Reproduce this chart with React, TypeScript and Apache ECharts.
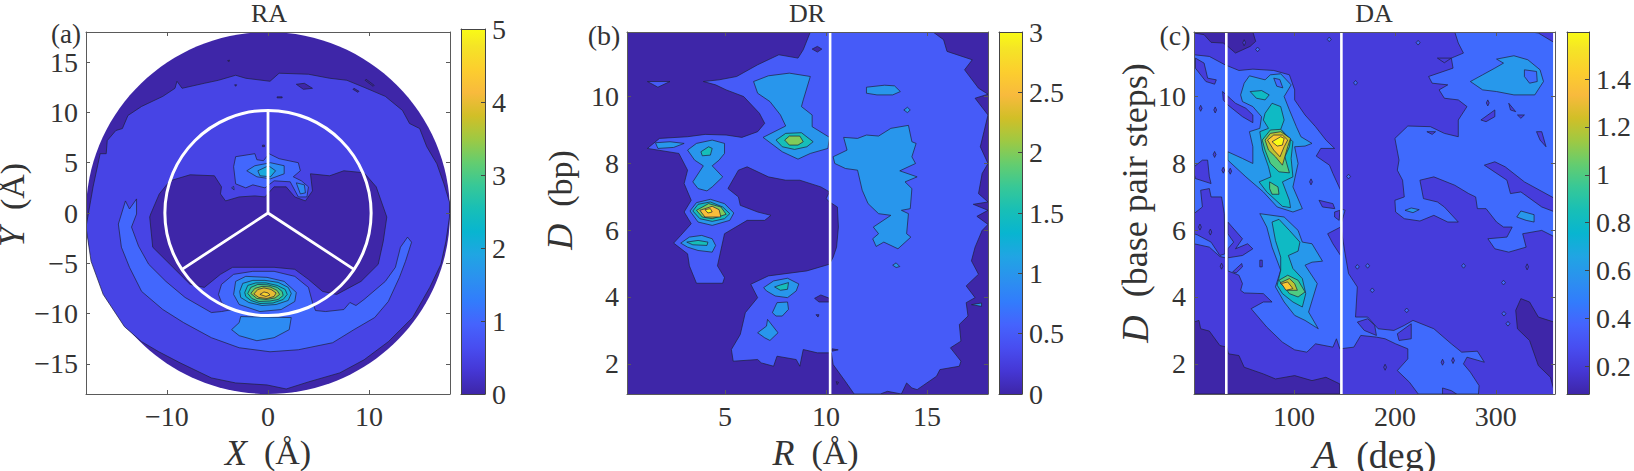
import React, { useEffect, useRef } from "react";
import * as echarts from "echarts";

type Pt = number[];
type Patch = { level: number; pts: Pt[]; edge?: boolean };

const PARULA = ["#3E26A8","#4537D5","#484DF0","#4563FD","#327CFC","#2B91EF","#20A5E3","#08B5D0","#18BFB6","#37C897","#64CD6F","#9EC943","#D1BF27","#F8BA3D","#FCCE2E","#F5E426","#F9FB15"];
const PARULA_POS = [0,4,8,12,16,20,24,28,32,36,40,44,48,52,56,60,63].map((i) => i / 63);

/* ---------- tick labels ---------- */
const raTicksX = [-10, 0, 10];
const raTicksY = [-15, -10, -5, 0, 5, 10, 15];
const raBarTicks = [0, 1, 2, 3, 4, 5];
const drTicksX = [5, 10, 15];
const dTicksY = [2, 4, 6, 8, 10];
const drBarTicks = [0, 0.5, 1, 1.5, 2, 2.5, 3];
const daTicksX = [100, 200, 300];
const daBarTicks = [0.2, 0.4, 0.6, 0.8, 1, 1.2, 1.4];

/* ---------- RA contours (X, Y in angstrom) ---------- */
const raLevel05: Pt[] = [[-18,-1.4],[-17.3,2.6],[-16.6,5.9],[-16,5.9],[-15.9,7.2],[-15.05,8.2],[-14.4,8.4],[-13.85,9.7],[-12.5,10.6],[-10.4,11.6],[-9.2,12.4],[-9,13.1],[-8.5,12.4],[-6.3,12.9],[-4.9,13.2],[-3.2,13.7],[-2.2,13.4],[0.2,13.1],[1.1,13.9],[4,13.8],[6.1,13.4],[7.8,13.2],[9.5,12.5],[11.6,11.6],[13.3,10.2],[14,8.9],[15,8.4],[15.7,6.6],[16.7,4.9],[17.4,2.9],[17.95,1.1],[17.95,-0.4],[17.6,-2.8],[17.1,-5.1],[16,-7.4],[14.3,-10.4],[11.9,-12.8],[9.5,-14.6],[7.1,-15.9],[4,-16.8],[1.8,-17.5],[-0.1,-17.1],[-3.2,-16.9],[-5.6,-16.4],[-8.7,-14.9],[-10.8,-13.8],[-12.5,-12.8],[-14.2,-11.3],[-16.3,-8.1],[-17.5,-4.8]];
const raHole: Pt[] = [[-11.6,-0.1],[-10.75,1.9],[-9.7,3.2],[-7.7,3.8],[-5.3,3.7],[-4.6,2.6],[-4.7,1.9],[-4.2,1.2],[-2.85,1.6],[-1.3,1.7],[-0.3,1.6],[0.6,2.6],[1.8,2.6],[2.65,1.6],[3.7,1.2],[4.4,2.2],[4.2,3.9],[6.1,3.7],[7.5,4.2],[9.5,4],[10.7,2.6],[11.75,-0.4],[11.4,-2.8],[10.9,-5.1],[9.2,-6.8],[6.8,-8.1],[5.4,-7.8],[4,-6.6],[2.65,-5.6],[0.6,-5.4],[-1.5,-5.4],[-3.5,-5.4],[-4.7,-6.1],[-6.3,-7.4],[-7.7,-7.1],[-9.7,-5.1],[-11.4,-3.4],[-11.7,-0.4]];
const raIslets: Pt[][] = [[[2.8,12.8],[3.6,12.9],[4.4,12.4],[3.5,12.3]],[[9.7,13.3],[10.5,12.7],[10.4,12.6],[9.6,13.2]],[[8.5,12.4],[9,12.1],[8.9,12],[8.4,12.3]],[[0.9,11.55],[1.4,11.55],[1.4,11.45],[0.9,11.45]],[[-0.55,6.75],[-0.35,6.75],[-0.35,6.6],[-0.55,6.6]],[[-4,15.15],[-3.8,15.2],[-3.85,15.05]],[[-3.3,12.75],[-3.1,12.75],[-3.2,12.6]]];
const raCrescent: Pt[] = [[-14.1,1.2],[-13.7,0.4],[-13,1.4],[-13,-0.1],[-13.5,-1.4],[-12.8,-3.3],[-11.8,-5.1],[-10.1,-6.8],[-8.2,-8.4],[-5.6,-9.9],[-4.6,-9.8],[-3.5,-9.6],[-4.6,-8.9],[-4.9,-8.1],[-4.6,-7.1],[-3.4,-6.1],[-1.5,-5.8],[0.6,-5.8],[2.65,-6.3],[4,-7.4],[4.4,-8.9],[4.7,-9.7],[5.7,-9.8],[7.5,-9.6],[8.1,-8.9],[8.7,-9.2],[9.5,-8.6],[11.6,-6.8],[12.6,-5.4],[13.1,-3.4],[13.8,-2.4],[14.2,-2.9],[13.6,-4.8],[13,-6.4],[11.9,-8.8],[10.55,-10.4],[8.5,-11.6],[6.4,-12.9],[3,-13.6],[0.2,-13.8],[-2.85,-13.4],[-5.6,-12.4],[-8.35,-10.9],[-10.4,-9.6],[-12.5,-7.8],[-13.7,-5.4],[-14.5,-3.4],[-14.8,-1.1]];
const raTop10: Pt[] = [[-3.4,4.6],[-3.2,5.6],[-1.3,5.9],[-1.1,5.3],[-0.45,5.2],[0.1,5.9],[1.1,5.4],[3,5],[3.2,4.2],[2.5,3.6],[3.3,3.2],[4,2.6],[3.85,1.6],[3,1.6],[2.2,3.1],[0.6,3.2],[-0.3,2.5],[-1.5,2.8],[-2.2,2.5],[-3.2,2.9]];
const raTopDot: Pt[] = [[-3.6,2.5],[-3.4,2.65],[-3.35,2.3]];
const raTop15: Pt[] = [[-2.1,4.2],[-1.3,4.7],[0.25,5],[1.6,4.7],[1.6,3.9],[0.25,3.4],[-1.1,3.6]];
const raTopSide15: Pt[] = [[2.8,3],[3.6,2.8],[3.7,2],[3.2,1.9]];
const raTop20: Pt[] = [[-1,4.2],[0.05,4.7],[0.75,4.2],[0.25,3.6],[-0.8,3.7]];
const raBlob15: Pt[] = [[-2.7,-10.3],[2.3,-10.4],[2.1,-11.6],[0.6,-12.4],[-1.1,-12.7],[-2.85,-12.2],[-3.6,-11.6],[-2.85,-10.9]];
const raPeak15: Pt[] = [[-3.4,-8.1],[-3.2,-6.8],[-2.2,-6.3],[-0.1,-6.4],[1.6,-6.8],[2.8,-7.9],[2.65,-8.8],[1.3,-9.6],[-0.8,-9.8],[-2.85,-9.1]];
const raPeak20: Pt[] = [[-2.8,-7.8],[-2.5,-7],[-1.5,-6.7],[-0.3,-6.7],[1,-6.9],[2,-7.4],[2.3,-8],[2,-8.7],[0.8,-9.1],[-0.6,-9.2],[-1.9,-8.9],[-2.7,-8.4]];
const raPeak25: Pt[] = [[-2.3,-7.9],[-2,-7.2],[-1.2,-6.95],[-0.2,-6.95],[0.9,-7.2],[1.7,-7.6],[1.9,-8.1],[1.5,-8.6],[0.5,-8.95],[-0.8,-9],[-1.7,-8.7],[-2.2,-8.3]];
const raPeak30: Pt[] = [[-2,-8],[-1.7,-7.4],[-1,-7.1],[0,-7.15],[0.9,-7.4],[1.4,-7.8],[1.5,-8.2],[1,-8.6],[0.2,-8.75],[-0.9,-8.8],[-1.6,-8.5]];
const raPeak35: Pt[] = [[-1.7,-8],[-1.3,-7.5],[-0.6,-7.3],[0.2,-7.35],[0.9,-7.7],[1.15,-8.1],[0.7,-8.45],[-0.2,-8.6],[-1.1,-8.5]];
const raPeak40: Pt[] = [[-1.4,-8.05],[-1,-7.6],[-0.4,-7.45],[0.3,-7.6],[0.8,-7.95],[0.6,-8.3],[-0.1,-8.5],[-0.9,-8.4]];
const raPeak45: Pt[] = [[-0.8,-8.1],[-0.4,-7.85],[0,-7.95],[0.2,-8.15],[-0.2,-8.3]];
const raSpokes: Pt[] = [[0,10.2],[0,0],[-8.5,-5.6],[0,0],[8.5,-5.6]];

const raPatches: Patch[] = [
  { level: 0.5, pts: raLevel05 },
  ...raIslets.map((pts) => ({ level: 0, pts })),
  { level: 0, pts: raHole },
  { level: 1, pts: raCrescent },
  { level: 1, pts: raTop10 }, { level: 1, pts: raTopDot },
  { level: 1.5, pts: raTop15 }, { level: 1.5, pts: raTopSide15 }, { level: 2, pts: raTop20 },
  { level: 1.5, pts: raBlob15 }, { level: 1.5, pts: raPeak15 }, { level: 2, pts: raPeak20 },
  { level: 2.5, pts: raPeak25 }, { level: 3, pts: raPeak30 }, { level: 3.5, pts: raPeak35 },
  { level: 4, pts: raPeak40 }, { level: 4.5, pts: raPeak45 },
];

/* ---------- DR contours (R in angstrom, D in bp) ---------- */
const drBase: Pt[] = [[0.14,1.1],[18.02,1.1],[18.02,11.92],[0.14,11.92]];
const drMain05: Pt[] = [[9.22,11.92],[8.87,11.39],[8.61,11.14],[7.66,11.24],[6.61,10.94],[5.57,10.59],[4.7,10.49],[3.92,10.44],[4.53,10.34],[5.05,10.19],[5.92,9.99],[6.7,9.49],[6.96,9.19],[6.61,8.94],[5.83,8.77],[5.05,8.84],[4.01,8.86],[3.14,8.79],[1.75,8.74],[1.15,8.44],[2.71,8.29],[3.14,7.79],[2.97,7.39],[3.32,6.89],[2.97,6.54],[3.32,6.19],[2.8,5.84],[2.45,5.61],[3.14,5.29],[3.23,4.93],[3.58,4.41],[4.88,4.41],[4.97,4.58],[4.62,4.93],[4.97,5.89],[6.09,6.29],[6.96,6.29],[7.27,6.44],[6.61,6.54],[5.75,6.74],[5.66,6.99],[5.14,7.24],[5.66,7.79],[6.09,7.89],[7.14,7.59],[8,7.49],[8.7,7.49],[9.74,7.29],[10.17,7.14],[10,6.94],[10.17,6.84],[10.56,6.69],[10.61,6.09],[10.52,5.49],[10.35,5.19],[10.17,4.98],[9.05,4.78],[7.14,4.63],[6.27,4.38],[6.61,3.98],[6,3.53],[5.75,2.88],[5.31,2.43],[5.4,2.08],[6.61,2.13],[6.79,2.03],[7.4,1.93],[7.57,2.23],[8.52,2.13],[8.7,1.93],[8.87,2.43],[9.57,2.33],[10.26,2.33],[10.35,1.98],[10.95,1.48],[11.39,1.1],[12.69,1.1],[13.04,1.18],[13.73,1.1],[13.99,1.43],[14.25,1.28],[14.51,1.23],[15.47,1.63],[15.64,1.83],[16.6,1.93],[16.68,2.08],[16.16,2.48],[16.68,2.68],[16.6,3.18],[17.03,3.43],[16.94,3.83],[17.38,3.98],[16.94,4.33],[17.55,4.68],[17.2,5.08],[17.38,5.49],[17.73,5.99],[18.02,6.17],[17.47,6.41],[18.02,6.59],[17.29,6.77],[18.02,6.84],[17.55,7.09],[17.73,7.69],[18.02,7.99],[17.64,8.49],[18.02,9.44],[17.38,9.94],[18.02,10.06],[17.55,10.24],[16.86,10.79],[17.24,11.09],[15.99,11.34],[15.82,11.69],[15.3,11.92]];
const drHoles: Pt[][] = [[[9.31,11.41],[9.57,11.49],[9.79,11.41],[9.57,11.32]],[[9.43,3.96],[9.74,4.06],[10.17,3.96],[10.17,3.85],[9.65,3.85]],[[10.3,2.45],[10.6,2.42],[10.3,2.38]],[[9.5,3.47],[9.65,3.47],[9.6,3.4]],[[10.5,1.47],[10.62,1.45],[10.55,1.38]],[[13.53,7.68],[13.6,7.55],[13.5,7.55]]];
const drIslet05: Pt[] = [[1.15,10.44],[2.27,10.44],[1.67,10.27]];
const drSpike10: Pt[] = [[17.2,3.77],[17.7,3.82],[17.7,3.72]];
const drUpper10: Pt[] = [[6.41,10.44],[7.14,10.61],[8.18,10.69],[9.22,10.59],[8.87,9.89],[8.78,9.69],[9.31,9.44],[9.31,9.09],[10.17,8.77],[10.09,8.44],[9.22,8.29],[8.61,8.12],[7.83,8.34],[6.88,8.77],[8,9.11],[7.74,9.44],[7.22,9.84],[6.61,10.09]];
const drUpper15: Pt[] = [[7.52,8.69],[8,8.89],[8.78,8.91],[9.36,8.64],[9.05,8.49],[8.44,8.41],[7.83,8.49]];
const drUpper20: Pt[] = [[7.95,8.69],[8.18,8.81],[8.7,8.81],[8.87,8.64],[8.61,8.54],[8.18,8.54]];
const drTail10: Pt[] = [[1.55,8.61],[2.27,8.64],[2.97,8.59],[2.45,8.47],[1.67,8.44]];
const drLobe10: Pt[] = [[3.14,8.39],[3.58,8.59],[4.36,8.69],[4.97,8.59],[4.97,8.29],[4.7,8.09],[4.36,7.92],[4.88,7.59],[4.36,7.29],[4.1,7.17],[3.66,7.24],[3.4,7.44],[3.92,7.92],[3.49,8.09]];
const drLobe15: Pt[] = [[3.8,8.34],[4.18,8.49],[4.36,8.44],[4.27,8.24],[3.87,8.22]];
const drPeak10: Pt[] = [[3.26,6.57],[3.58,6.82],[4.27,6.92],[4.97,6.79],[5.43,6.51],[5.23,6.29],[4.36,6.14],[3.66,6.24]];
const drPeak15: Pt[] = [[3.4,6.57],[3.66,6.77],[4.27,6.84],[4.88,6.69],[5.23,6.49],[4.97,6.34],[4.36,6.26],[3.75,6.34]];
const drPeak20: Pt[] = [[3.58,6.59],[4.18,6.79],[4.79,6.69],[5.05,6.47],[4.36,6.34],[3.87,6.39]];
const drPeak25: Pt[] = [[3.75,6.59],[4.36,6.71],[4.7,6.61],[4.79,6.39],[4,6.39]];
const drPeak30: Pt[] = [[4,6.61],[4.27,6.64],[4.36,6.54],[4.15,6.51]];
const drLow10: Pt[] = [[2.8,5.61],[3.23,5.79],[3.84,5.84],[4.36,5.74],[4.53,5.54],[4.36,5.34],[3.66,5.39],[3.14,5.49]];
const drLow15: Pt[] = [[3.1,5.64],[3.66,5.69],[4.15,5.64],[4.1,5.54],[3.4,5.56]];
const drFour10: Pt[] = [[6.91,4.28],[7.4,4.48],[8.09,4.56],[8.65,4.39],[8.52,4.18],[8.09,3.98],[7.48,4.03],[7.05,4.18]];
const drFour15: Pt[] = [[7.45,4.3],[7.74,4.36],[8.14,4.43],[8.09,4.23],[7.74,4.2]];
const drBlobA: Pt[] = [[7.57,3.83],[8.09,3.85],[8.14,3.63],[7.83,3.43],[7.52,3.43],[7.34,3.53]];
const drBlobB: Pt[] = [[7.1,3.33],[7.62,2.93],[7.22,2.7],[6.96,2.78],[6.61,2.93],[7.05,3.13]];
const drRightIslet: Pt[] = [[12,10.27],[12.9,10.33],[13.39,10.31],[13.68,10.14],[13.3,10.04],[12.52,10.04],[12,10.09]];
const drDotA: Pt[] = [[13.85,9.59],[14.03,9.67],[14.17,9.59],[14.03,9.51]];
const drDotB: Pt[] = [[13.3,4.95],[13.47,5.02],[13.65,4.91],[13.47,4.88]];
const drRightBig: Pt[] = [[10.87,8.77],[11.56,8.74],[12,8.84],[12.6,8.81],[13.21,9.04],[14.08,9.13],[14.25,8.64],[14.46,8.59],[14.25,8.19],[14.43,7.99],[13.65,7.77],[14.51,7.59],[13.91,7.44],[14.25,7.24],[14.17,6.64],[13.73,6.59],[14.08,6.49],[13.99,5.89],[14.2,5.79],[13.56,5.44],[12.86,5.64],[12.48,5.51],[12.31,5.74],[12.6,5.89],[12.34,6.09],[13.21,6.44],[12.6,6.49],[12.08,6.79],[11.79,7.19],[11.56,7.79],[10.96,7.84],[10.43,7.99],[10.35,8.19],[11.04,8.39]];
const drWhite: Pt[] = [[10.2,1.1],[10.2,11.92]];

const drPatches: Patch[] = [
  { level: 0, pts: drBase, edge: false },
  { level: 0.5, pts: drMain05 }, { level: 0.5, pts: drIslet05 },
  ...drHoles.map((pts) => ({ level: 0, pts })),
  ...[drSpike10, drUpper10, drTail10, drLobe10, drPeak10, drLow10, drFour10, drBlobA, drBlobB, drRightIslet, drDotA, drDotB, drRightBig].map((pts) => ({ level: 1, pts })),
  ...[drUpper15, drLobe15, drPeak15, drLow15, drFour15].map((pts) => ({ level: 1.5, pts })),
  { level: 2, pts: drUpper20 }, { level: 2, pts: drPeak20 },
  { level: 2.5, pts: drPeak25 }, { level: 3, pts: drPeak30 },
];

/* ---------- DA contours (A in deg, D in base pair steps) ---------- */
const daBase: Pt[] = [[1,1.1],[358.6,1.1],[358.6,11.92],[1,11.92]];
const daDarkTop: Pt[] = [[1,11.92],[59.3,11.92],[62.1,11.64],[56.6,11.49],[42.1,11.29],[34.5,11.49],[30,11.59],[17.9,11.61],[11,11.84],[1,11.89]];
const daDarkLeft: Pt[] = [[1,3.25],[5.9,3.3],[7.6,3.05],[16.2,2.98],[26.6,2.55],[33.4,2.5],[35.2,2.3],[45.5,2.25],[50.7,1.9],[69.7,1.7],[81.7,1.55],[100.7,1.65],[117.9,1.5],[131.7,1.6],[145.5,1.4],[145.5,1.1],[1,1.1]];
const daDarkRight: Pt[] = [[319.7,3.6],[324.8,3.95],[333.4,3.85],[342.1,3.4],[357.6,3.25],[358.6,1.1],[354.1,1.6],[342.1,1.95],[333.4,2.7],[321.4,3.05]];
const daRidge04: Pt[] = [[1,11.24],[16.2,11.19],[31.7,10.94],[45.5,10.77],[59.3,10.81],[80,10.77],[95.5,10.64],[100.7,10.19],[100.7,9.89],[111,9.44],[121.4,9.09],[131.7,8.69],[140.3,8.44],[126.6,8.44],[122.1,8.21],[135.2,7.94],[138.6,7.69],[146.2,7.19],[146.2,6.64],[150.7,6.59],[146.2,6.14],[150.7,5.29],[154.1,4.7],[162.8,4.3],[161,3.4],[173.1,3.4],[183.4,3.05],[199,3],[209.3,3.15],[217.9,3.3],[238.6,3.05],[255.9,2.6],[266.2,2.35],[281.7,2.38],[288.6,2.05],[271.4,2.2],[267.9,2],[274.8,1.75],[283.4,1.35],[282.8,1.1],[223.1,1.1],[214.5,1.45],[202.4,1.8],[212.8,2.15],[212.8,2.45],[200.7,2.6],[190.3,2.75],[181.7,2.8],[166.2,2.85],[159.3,2.5],[145.5,2.45],[142.1,2.75],[138.6,2.5],[121.4,2.6],[112.8,2.35],[100.7,2.42],[88.6,2.65],[73.1,3.1],[57.6,3.65],[69.7,3.85],[78.3,3.85],[69.7,4.1],[50.7,4.12],[47.2,4.2],[49,4.4],[45.5,4.65],[34.5,4.78],[34.5,5.15],[26.6,5.21],[16.2,5.49],[1,5.59]];
const daRight04: Pt[] = [[259.3,11.92],[262.8,11.59],[267.9,11.29],[255.9,11.14],[257.6,10.84],[233.4,10.59],[236.9,10.39],[252.4,10.34],[243.8,10.19],[249,9.94],[262.8,9.89],[271.4,9.69],[262.8,9.29],[262.8,8.79],[249,8.89],[235.2,9.09],[212.8,9.11],[200,8.74],[204.1,8.09],[202.4,7.79],[207.6,7.49],[209.3,6.99],[200,6.89],[200.7,6.54],[209.3,6.34],[224.8,6.27],[238.6,6.44],[252.4,6.24],[262.8,6.24],[249,6.69],[242.1,6.84],[228.3,6.94],[224.8,7.49],[238.6,7.59],[259.3,7.34],[273.1,7.09],[280,6.99],[281.7,6.64],[290.3,6.64],[300.7,6.24],[307.6,6.09],[316.2,6.09],[311,5.79],[292.1,5.74],[299,5.44],[312.8,5.34],[330,5.49],[326.6,5.89],[345.5,5.99],[358.6,5.79],[358.6,6.54],[345.5,6.69],[324.8,7.14],[314.5,7.09],[311,7.49],[288.6,7.94],[299,8.04],[309.3,7.89],[328.3,7.44],[358.6,6.94],[358.6,11.59],[342.1,11.89],[335.2,11.92]];
const daHoles02: Pt[][] = [
  [[2.4,11.14],[11,10.99],[14.5,10.54],[23.1,10.49],[21.4,10.36],[12.8,10.44],[2.4,10.84]],
  [[29.3,10.14],[42.1,9.79],[52.4,9.64],[59.3,9.44],[59.3,9.21],[49,9.39],[34.5,9.74],[30,9.89]],
  [[1,7.89],[9.3,8.09],[14.5,8.09],[16.2,7.59],[17.9,7.39],[2.4,7.54],[1,7.69]],
  [[1,6.49],[9.3,6.69],[7.6,7.19],[16.2,7.24],[17.9,6.99],[28.3,6.99],[31,6.49],[31.7,5.29],[26.6,5.24],[17.9,5.64],[4.1,5.86],[1,5.89]],
  [[34.5,6.24],[49,5.74],[42.1,5.44],[54.1,5.59],[59.3,5.44],[49,5.24],[34.5,5.17],[34.5,5.44],[40.3,5.64],[34.5,5.89]],
  [[39.3,4.75],[48.3,5],[49,4.9],[42.8,4.72]],
  [[66.2,5.1],[68.6,5.1],[68.6,4.9],[66.2,4.9]],
  [[124.8,6.89],[138.6,6.79],[140.5,6.64],[128.3,6.69]],
  [[140.3,6.54],[145.5,6.59],[144.8,6.29],[140.3,6.39]],
  [[133.4,5.89],[146.2,6.09],[146.2,5.24],[138.6,5.59]],
  [[285.2,9.29],[299,9.59],[299,9.39],[290.3,9.24]],
  [[340.3,8.94],[345.5,8.94],[349.7,8.49],[343.8,8.69]],
  [[242.1,11.14],[255.9,11.14],[249,11]],
  [[312.8,9.79],[319.7,9.54],[314.5,9.59]],
  [[321.4,9.44],[328.3,9.44],[324.8,9.34]],
  [[231.7,8.94],[240.3,8.94],[236.9,8.86]],
  [[202.4,2.9],[216.2,3.2],[216.2,2.75],[204.1,2.7]],
  [[162.8,3.25],[173.1,3.35],[180,3.15],[181.7,2.85],[169.7,3]],
  [[247.2,1.28],[255.9,1.2],[261,1.1],[247.2,1.1]],
];
const daSpecks02: Pt[] = [[7.6,9.64],[22,9.59],[21.4,8.26],[36.9,7.76],[30,7.79],[6.9,6.09],[17.2,5.94],[116.9,7.44],[28.3,4.92],[247.2,2.05],[257.6,2.1],[292,9.8],[50.7,11.6],[190.3,1.9],[331,4.9]];
const daSpecks04: Pt[] = [[154.1,7.6],[223,11.6],[268,4.93],[162.8,4.9],[177.6,4.2],[211.7,3.6],[307.6,4.43],[173,4.93],[64,11.4],[135,11.7],[161,10.4],[308,3.5],[312,3.2]];
const daUpper06: Pt[] = [[47.2,10.04],[50.7,10.39],[55.9,10.61],[71.4,10.49],[76.6,10.64],[86.9,10.67],[97.2,10.34],[90.3,9.99],[95.5,9.59],[102.4,9.09],[106.9,8.79],[117.9,8.59],[111,8.51],[100.7,8.49],[104.1,7.99],[99,7.29],[108.3,6.64],[99,6.54],[83.4,6.69],[69.7,7.14],[52.4,7.59],[34.5,8.09],[34.5,8.34],[49,8.14],[59.3,7.99],[59.3,8.49],[55.9,8.94],[66.2,9.04],[67.9,9.39],[59.3,9.69],[49,9.84]];
const daLower06: Pt[] = [[66.2,6.49],[90.3,6.39],[104.1,5.99],[108.3,5.64],[117.9,5.59],[128.3,5.07],[117.9,5.04],[111,4.95],[123.1,4.4],[114.5,3.55],[124.1,3.05],[111,3.3],[100.7,3.45],[90.3,3.85],[81.7,4.3],[86.9,4.8],[78.3,5.49],[73.1,6.09]];
const daFar06: Pt[] = [[274.8,10.44],[286.9,10.64],[299,10.84],[307.6,10.99],[300.7,11.11],[317.9,11.21],[331.7,11.09],[343.8,10.79],[347.2,10.44],[338.6,10.04],[317.9,10.04],[300.7,10.14],[286.9,10.19]];
const daFarHole04: Pt[] = [[328.3,10.79],[340.3,10.74],[341,10.44],[333.4,10.39],[328.3,10.59]];
const daRing04: Pt[] = [[80,10.54],[86,10.5],[89,10.25],[83,10.3]];
const daIsletA06: Pt[] = [[210,6.59],[216.2,6.66],[224.1,6.61],[217.9,6.52]];
const daIsletB06: Pt[] = [[320.7,6.39],[324.8,6.57],[337.9,6.46],[337.9,6.24],[330,6.29]];
const daUpper08: Pt[] = [[71.4,9.49],[78.3,9.79],[86.9,9.69],[90.3,9.29],[86.9,9.01],[99,8.64],[97.2,8.14],[99,7.59],[88.6,7.44],[95.5,6.89],[96.6,6.67],[88.6,6.71],[73.1,7.14],[65.5,7.44],[77.2,7.59],[74.8,7.89],[69,8.39],[66.2,8.94],[74.8,9.04],[69.7,9.29]];
const daTail08: Pt[] = [[56.6,10.14],[68,10.17],[75.5,10.04],[71.4,9.89],[62.8,9.94]];
const daLower08: Pt[] = [[78.3,6.24],[85.2,6.32],[95.5,5.99],[105.9,5.64],[104.1,5.37],[94.5,5.24],[99,4.85],[108.3,4.55],[111.7,4.1],[108.3,3.7],[99,3.85],[88.6,4.1],[83.4,4.35],[86.9,4.8],[86.9,5.19],[81.7,5.69]];
const daUpper10: Pt[] = [[68.6,8.69],[76.6,8.99],[86.9,9.01],[96.6,8.69],[95.5,8.49],[91,8.19],[95.5,7.71],[85.2,7.74],[76.6,7.99],[71.4,8.39]];
const daUpper12: Pt[] = [[71.4,8.69],[76.6,8.89],[86.9,8.94],[96.6,8.74],[93.8,8.49],[88.6,7.94],[81.7,8.19],[74.8,8.39]];
const daUpper14: Pt[] = [[73.8,8.69],[80,8.84],[88.6,8.84],[93.8,8.69],[90.3,8.49],[86.2,8.19],[80,8.39]];
const daUpper16: Pt[] = [[78.3,8.64],[86.9,8.79],[90.3,8.74],[88.6,8.54],[83.4,8.51]];
const daMid10: Pt[] = [[75.9,7.44],[84.2,7.29],[85.2,7.07],[78.3,7.07],[75.9,7.24]];
const daLower10: Pt[] = [[85.2,4.5],[93.8,4.65],[104.1,4.5],[111,4.15],[104.1,4],[95.5,4.1]];
const daLower12: Pt[] = [[86.2,4.42],[95.5,4.55],[100.7,4.4],[103.4,4.2],[93.8,4.2]];
const daLower14: Pt[] = [[87.6,4.4],[93.8,4.45],[99,4.25],[92.1,4.2]];
const daWhite: Pt[][] = [[[33,1.1],[33,11.92]],[[147,1.1],[147,11.92]],[[358,1.1],[358,11.92]]];

const dot = (p: Pt, rx: number, ry: number): Pt[] => [[p[0] - rx, p[1]], [p[0], p[1] + ry], [p[0] + rx, p[1]], [p[0], p[1] - ry]];

const daPatches: Patch[] = [
  { level: 0.2, pts: daBase, edge: false },
  { level: 0.084, pts: daDarkTop }, { level: 0.084, pts: daDarkLeft }, { level: 0.084, pts: daDarkRight },
  { level: 0.4, pts: daRidge04 }, { level: 0.4, pts: daRight04 },
  ...daHoles02.map((pts) => ({ level: 0.2, pts })),
  ...daSpecks02.map((p) => ({ level: 0.2, pts: dot(p, 1.4, 0.09) })),
  ...daSpecks04.map((p) => ({ level: 0.4, pts: dot(p, 2, 0.07) })),
  ...[daUpper06, daLower06, daFar06, daIsletA06, daIsletB06].map((pts) => ({ level: 0.6, pts })),
  { level: 0.4, pts: daFarHole04 }, { level: 0.4, pts: daRing04 },
  ...[daUpper08, daTail08, daLower08].map((pts) => ({ level: 0.8, pts })),
  ...[daUpper10, daMid10, daLower10].map((pts) => ({ level: 1, pts })),
  { level: 1.2, pts: daUpper12 }, { level: 1.2, pts: daLower12 },
  { level: 1.4, pts: daUpper14 }, { level: 1.4, pts: daLower14 },
  { level: 1.597, pts: daUpper16 },
];

/* ---------- helpers ---------- */
const SERIF = '"Liberation Serif", "DejaVu Serif", serif';
const INK = "#333333";
const FRAME = "#5a5a5a";

function hexRgb(h: string) { return [1, 3, 5].map((i) => parseInt(h.slice(i, i + 2), 16)); }
function parula(t: number) {
  const c = Math.max(0, Math.min(1, t));
  let i = 0;
  while (i < PARULA_POS.length - 2 && c > PARULA_POS[i + 1]) i++;
  const f = (c - PARULA_POS[i]) / (PARULA_POS[i + 1] - PARULA_POS[i]);
  const a = hexRgb(PARULA[i]), b = hexRgb(PARULA[i + 1]);
  return `rgb(${a.map((v, k) => Math.round(v + (b[k] - v) * f)).join(",")})`;
}

const polygonSeries = (patches: Patch[], idx: number, lo: number, hi: number) => ({
  type: "custom", xAxisIndex: idx, yAxisIndex: idx, clip: true, silent: true, z: 2,
  data: patches.map((_, i) => [i]),
  renderItem: (params: any, api: any) => {
    const p = patches[params.dataIndex];
    return {
      type: "polygon",
      shape: { points: p.pts.map((q) => api.coord(q)) },
      style: { fill: parula((p.level - lo) / (hi - lo)), stroke: p.edge === false ? "none" : "#20203a", lineWidth: 0.7 },
    };
  },
});

const circleSeries = (rows: number[][], idx: number, style: any, z: number) => ({
  type: "custom", xAxisIndex: idx, yAxisIndex: idx, silent: true, z, clip: false,
  data: rows,
  renderItem: (_: any, api: any) => {
    const c = api.coord([api.value(0), api.value(1)]);
    const s = api.size([api.value(2), api.value(2)]);
    return { type: "ellipse", shape: { cx: c[0], cy: c[1], rx: s[0], ry: s[1] }, style };
  },
});

const whiteLine = (pts: Pt[], idx: number, width: number) => ({
  type: "line", xAxisIndex: idx, yAxisIndex: idx, data: pts, showSymbol: false, silent: true, z: 4, clip: true,
  lineStyle: { color: "#ffffff", width },
});

const barSeries = (idx: number, lo: number, hi: number) => ({
  type: "custom", xAxisIndex: idx, yAxisIndex: idx, silent: true, z: 2, clip: false,
  data: [[0, lo, 1, hi]],
  renderItem: (_: any, api: any) => {
    const a = api.coord([api.value(0), api.value(3)]);
    const b = api.coord([api.value(2), api.value(1)]);
    return {
      type: "rect",
      shape: { x: a[0], y: a[1], width: b[0] - a[0], height: b[1] - a[1] },
      style: {
        fill: new echarts.graphic.LinearGradient(0, 1, 0, 0, PARULA.map((color, i) => ({ offset: PARULA_POS[i], color }))),
      },
    };
  },
});

const fmt = (v: number) => String(v).replace("-", "\u2212");
const richAt = (size: number) => ({
  i: { fontFamily: SERIF, fontStyle: "italic", fontSize: size + 2, color: INK },
  r: { fontFamily: SERIF, fontSize: size, color: INK },
});

function mainX(grid: number, lo: number, hi: number, ticks: number[], name: string, gap: number, size: number, padding: number[]) {
  return {
    type: "value", gridIndex: grid, min: lo, max: hi, position: "bottom", z: 5,
    name, nameLocation: "middle", nameGap: gap, nameTextStyle: { rich: richAt(size), fontFamily: SERIF, fontSize: size, color: INK, padding },
    splitLine: { show: false }, silent: true,
    axisLine: { show: true, onZero: false, lineStyle: { color: FRAME, width: 1 } },
    axisTick: { show: true, inside: true, length: 4, customValues: ticks, lineStyle: { color: FRAME, width: 1 } },
    axisLabel: { show: true, customValues: ticks, formatter: fmt, margin: 8, color: INK, fontFamily: SERIF, fontSize: 28 },
  };
}
function mainY(grid: number, lo: number, hi: number, ticks: number[], name: string, gap: number, size: number, padding: number[]) {
  return {
    type: "value", gridIndex: grid, min: lo, max: hi, position: "left", z: 5,
    name, nameLocation: "middle", nameGap: gap, nameTextStyle: { rich: richAt(size), fontFamily: SERIF, fontSize: size, color: INK, padding },
    splitLine: { show: false }, silent: true,
    axisLine: { show: true, onZero: false, lineStyle: { color: FRAME, width: 1 } },
    axisTick: { show: true, inside: true, length: 4, customValues: ticks, lineStyle: { color: FRAME, width: 1 } },
    axisLabel: { show: true, customValues: ticks, formatter: fmt, margin: 8, color: INK, fontFamily: SERIF, fontSize: 28 },
  };
}
function mirror(grid: number, lo: number, hi: number, ticks: number[], position: string) {
  return {
    type: "value", gridIndex: grid, min: lo, max: hi, position, z: 5, silent: true,
    splitLine: { show: false },
    axisLine: { show: true, onZero: false, lineStyle: { color: FRAME, width: 1 } },
    axisTick: { show: true, inside: true, length: 4, customValues: ticks, lineStyle: { color: FRAME, width: 1 } },
    axisLabel: { show: false },
  };
}
function barX(grid: number) {
  return { type: "value", gridIndex: grid, min: 0, max: 1, position: "bottom", z: 5, silent: true, splitLine: { show: false }, axisTick: { show: false }, axisLabel: { show: false }, axisLine: { show: true, onZero: false, lineStyle: { color: "#444", width: 1 } } };
}
function barXTop(grid: number) { return { ...barX(grid), position: "top" }; }
function barY(grid: number, lo: number, hi: number, ticks: number[]) {
  return {
    type: "value", gridIndex: grid, min: lo, max: hi, position: "right", z: 5, silent: true,
    splitLine: { show: false },
    axisLine: { show: true, onZero: false, lineStyle: { color: "#444", width: 1 } },
    axisTick: { show: true, inside: true, length: 4, customValues: ticks, lineStyle: { color: "#444", width: 1 } },
    axisLabel: { show: true, customValues: ticks, margin: 7, color: INK, fontFamily: SERIF, fontSize: 28 },
  };
}
function barYLeft(grid: number, lo: number, hi: number) {
  return { type: "value", gridIndex: grid, min: lo, max: hi, position: "left", z: 5, silent: true, splitLine: { show: false }, axisTick: { show: false }, axisLabel: { show: false }, axisLine: { show: true, onZero: false, lineStyle: { color: "#444", width: 1 } } };
}

const panelText = (text: string, x: number, y: number, size: number) => ({
  type: "text", x, y, silent: true, z: 20,
  style: { text, fill: INK, font: `${size}px ${SERIF}`, align: "center", verticalAlign: "middle" },
});

export default function App() {
  const ref = useRef<HTMLDivElement>(null);
  useEffect(() => {
    if (!ref.current) return;
    const chart = echarts.init(ref.current, undefined, { renderer: "svg" });
    const grids = [
      { left: 86, top: 32, width: 364, height: 362 },
      { left: 627, top: 32, width: 361, height: 362 },
      { left: 1194, top: 32, width: 361, height: 362 },
      { left: 461, top: 29, width: 24, height: 365 },
      { left: 999, top: 32, width: 23, height: 362 },
      { left: 1567, top: 32, width: 22, height: 362 },
    ];
    const option: any = {
      animation: false,
      backgroundColor: "#ffffff",
      grid: grids.map((g) => ({ ...g, containLabel: false, show: false, outerBoundsMode: "none" })),
      xAxis: [
        mainX(0, -18, 18, raTicksX, "{i|X}  {r|(\u00c5)}", 38, 34, [0, 0, 0, 0]),
        mainX(1, 0.14, 18.02, drTicksX, "{i|R}  {r|(\u00c5)}", 38, 34, [0, 0, 0, 16]),
        mainX(2, 1, 358.6, daTicksX, "{i|A}  {r|(deg)}", 31, 38, [0, 0, 0, 0]),
        barX(3), barX(4), barX(5),
        mirror(0, -18, 18, raTicksX, "top"),
        mirror(1, 0.14, 18.02, drTicksX, "top"),
        mirror(2, 1, 358.6, daTicksX, "top"),
        barXTop(3), barXTop(4), barXTop(5),
      ],
      yAxis: [
        mainY(0, -18, 18, raTicksY, "{i|Y}  {r|(\u00c5)}", 50, 34, [0, 0, 0, 16]),
        mainY(1, 1.1, 11.92, dTicksY, "{i|D}  {r|(bp)}", 49, 34, [0, 0, 0, 26]),
        mainY(2, 1.1, 11.92, dTicksY, "{i|D}  {r|(base pair steps)}", 35, 36, [0, 0, 0, 20]),
        barY(3, 0, 5, raBarTicks),
        barY(4, 0, 3, drBarTicks),
        barY(5, 0.084, 1.597, daBarTicks),
        mirror(0, -18, 18, raTicksY, "right"),
        mirror(1, 1.1, 11.92, dTicksY, "right"),
        mirror(2, 1.1, 11.92, dTicksY, "right"),
        barYLeft(3, 0, 5), barYLeft(4, 0, 3), barYLeft(5, 0.084, 1.597),
      ],
      graphic: [
        panelText("RA", 269, 13, 26),
        panelText("DR", 807, 13, 26),
        panelText("DA", 1374, 13, 26),
        panelText("(a)", 66, 34, 27),
        panelText("(b)", 604, 35, 28),
        panelText("(c)", 1175, 35, 28),
      ],
      series: [
        circleSeries([[0, 0, 18]], 0, { fill: parula(0), stroke: "none" }, 1),
        polygonSeries(raPatches, 0, 0, 5),
        circleSeries([[0, 0, 10.2]], 0, { fill: "none", stroke: "#ffffff", lineWidth: 3 }, 4),
        whiteLine(raSpokes, 0, 2.8),
        polygonSeries(drPatches, 1, 0, 3),
        whiteLine(drWhite, 1, 2.6),
        polygonSeries(daPatches, 2, 0.084, 1.597),
        ...daWhite.map((w) => whiteLine(w, 2, 2.6)),
        barSeries(3, 0, 5),
        barSeries(4, 0, 3),
        barSeries(5, 0.084, 1.597),
      ],
    };
    chart.setOption(option);
    return () => chart.dispose();
  }, []);
  return <div ref={ref} style={{ position: "absolute", left: 0, top: 0, width: 1634, height: 471 }} />;
}
